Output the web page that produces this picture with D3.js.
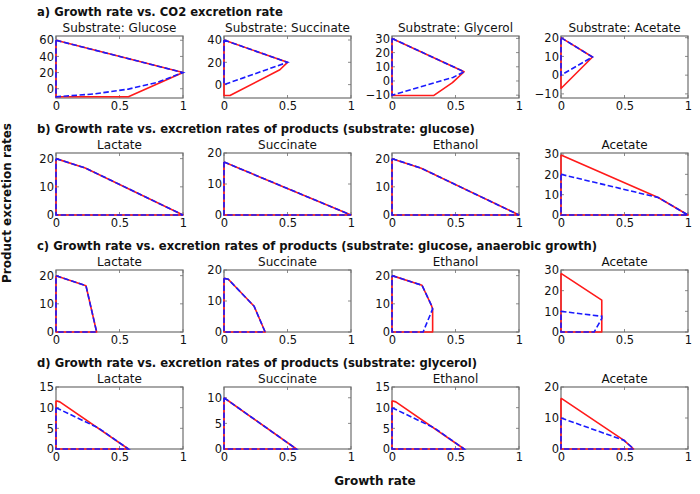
<!DOCTYPE html>
<html>
<head>
<meta charset="utf-8">
<script src="https://cdn.jsdelivr.net/npm/d3@7"></script>
<style>
  html, body { margin: 0; padding: 0; background: #fff; }
  svg { display: block; font-family: "DejaVu Sans", sans-serif; }
</style>
</head>
<body>
<div id="chart"></div>
<script>
// ---------- DATA ----------
// Section titles
const sectionTitles = [
  "a) Growth rate vs. CO2 excretion rate",
  "b) Growth rate vs. excretion rates of products (substrate: glucose)",
  "c) Growth rate vs. excretion rates of products (substrate: glucose, anaerobic growth)",
  "d) Growth rate vs. excretion rates of products (substrate: glycerol)"
];
const rowATitles = ["Substrate: Glucose", "Substrate: Succinate", "Substrate: Glycerol", "Substrate: Acetate"];
const productTitles = ["Lactate", "Succinate", "Ethanol", "Acetate"];

const xTicks = [0, 0.5, 1];

// y-axis ranges and ticks per row (4 panels each)
const yDomainsA = [[-11.5, 65.3], [-12, 43.6], [-12, 31.7], [-12.2, 20.9]];
const yTicksA = [[0, 20, 40, 60], [0, 20, 40], [-10, 0, 10, 20, 30], [-10, 0, 10, 20]];
const yDomainsB = [[0, 22], [0, 20], [0, 22], [0, 30.5]];
const yTicksB = [[0, 10, 20], [0, 10, 20], [0, 10, 20], [0, 10, 20, 30]];
const yDomainsC = [[0, 22], [0, 20], [0, 22], [0, 30]];
const yTicksC = [[0, 10, 20], [0, 10, 20], [0, 10, 20], [0, 10, 20, 30]];
const yDomainsD = [[0, 15], [0, 12.1], [0, 15], [0, 20]];
const yTicksD = [[0, 5, 10, 15], [0, 5, 10], [0, 5, 10, 15], [0, 10, 20]];

// Row a: growth rate vs CO2 excretion (red = solid envelope, blue = dashed envelope)
const aGlucoseRed  = [[0,60],[1,20],[0.57,-10],[0,-10],[0,60]];
const aGlucoseBlue = [[0,60],[1,20],[0.8,8],[0.57,-0.5],[0.3,-6.5],[0,-10],[0,60]];
const aSuccinateRed  = [[0,40],[0.5,20],[0.44,13.3],[0.047,-9.8],[0,-9.8],[0,40]];
const aSuccinateBlue = [[0,40],[0.5,20],[0,0],[0,40]];
const aGlycerolRed  = [[0,30],[0.568,6.5],[0.476,-1.2],[0.33,-10.2],[0,-10.2],[0,30]];
const aGlycerolBlue = [[0,30],[0.568,6.5],[0.48,2.5],[0,-10],[0,30]];
const aAcetateRed  = [[0,20],[0.248,9.7],[0,-7.1],[0,20]];
const aAcetateBlue = [[0,20],[0.248,9.7],[0,0],[0,20]];

// Row b: aerobic glucose
const bLactateRed  = [[0,20],[0.23,16.7],[1,0],[0,0],[0,20]];
const bLactateBlue = [[0,20],[0.23,16.7],[1,0],[0,0],[0,20]];
const bSuccinateRed  = [[0,17.1],[1,0],[0,0],[0,17.1]];
const bSuccinateBlue = [[0,17.1],[1,0],[0,0],[0,17.1]];
const bEthanolRed  = [[0,20],[0.23,16.6],[1,0],[0,0],[0,20]];
const bEthanolBlue = [[0,20],[0.23,16.6],[1,0],[0,0],[0,20]];
const bAcetateRed  = [[0,29.5],[0.765,8.6],[1,0],[0,0],[0,29.5]];
const bAcetateBlue = [[0,20],[0.765,8.6],[1,0],[0,0],[0,20]];

// Row c: anaerobic glucose
const cLactateRed  = [[0,20],[0.236,16.4],[0.32,0],[0,0],[0,20]];
const cLactateBlue = [[0,20],[0.236,16.4],[0.32,0],[0,0],[0,20]];
const cSuccinateRed  = [[0,17.3],[0.034,17],[0.237,8.3],[0.324,0],[0,0],[0,17.3]];
const cSuccinateBlue = [[0,17.3],[0.034,17],[0.237,8.3],[0.324,0],[0,0],[0,17.3]];
const cEthanolRed  = [[0,20],[0.236,16.6],[0.31,9.5],[0.32,8.2],[0.32,0],[0,0],[0,20]];
const cEthanolBlue = [[0,20],[0.236,16.6],[0.31,9.5],[0.32,8.2],[0.245,0],[0,0],[0,20]];
const cAcetateRed  = [[0,28.4],[0.321,15.4],[0.321,0],[0,0],[0,28.4]];
const cAcetateBlue = [[0,10],[0.321,7.6],[0.321,6.5],[0.261,0],[0,0],[0,10]];

// Row d: glycerol
const dLactateRed  = [[0,11.7],[0.03,11.4],[0.57,0],[0,0],[0,11.7]];
const dLactateBlue = [[0,10],[0.333,5.1],[0.57,0],[0,0],[0,10]];
const dSuccinateRed  = [[0,10],[0.57,0],[0,0],[0,10]];
const dSuccinateBlue = [[0,10],[0.57,0],[0,0],[0,10]];
const dEthanolRed  = [[0,11.7],[0.03,11.4],[0.568,0],[0,0],[0,11.7]];
const dEthanolBlue = [[0,10],[0.333,5.1],[0.568,0],[0,0],[0,10]];
const dAcetateRed  = [[0,16.4],[0.496,2.8],[0.572,0],[0,0],[0,16.4]];
const dAcetateBlue = [[0,10],[0.496,2.8],[0.572,0],[0,0],[0,10]];

// ---------- LAYOUT ----------
const W = 700, H = 494;
const panelLefts = [56, 224, 392, 561];
const panelTops = [36, 153, 270, 387];
const pw = 127, ph = 62;

const rows = [
  { title: sectionTitles[0], sub: rowATitles, dom: yDomainsA, ticks: yTicksA,
    red: [aGlucoseRed, aSuccinateRed, aGlycerolRed, aAcetateRed],
    blue: [aGlucoseBlue, aSuccinateBlue, aGlycerolBlue, aAcetateBlue] },
  { title: sectionTitles[1], sub: productTitles, dom: yDomainsB, ticks: yTicksB,
    red: [bLactateRed, bSuccinateRed, bEthanolRed, bAcetateRed],
    blue: [bLactateBlue, bSuccinateBlue, bEthanolBlue, bAcetateBlue] },
  { title: sectionTitles[2], sub: productTitles, dom: yDomainsC, ticks: yTicksC,
    red: [cLactateRed, cSuccinateRed, cEthanolRed, cAcetateRed],
    blue: [cLactateBlue, cSuccinateBlue, cEthanolBlue, cAcetateBlue] },
  { title: sectionTitles[3], sub: productTitles, dom: yDomainsD, ticks: yTicksD,
    red: [dLactateRed, dSuccinateRed, dEthanolRed, dAcetateRed],
    blue: [dLactateBlue, dSuccinateBlue, dEthanolBlue, dAcetateBlue] }
];

const svg = d3.select("#chart").append("svg")
  .attr("width", W).attr("height", H);

const frameColor = "#6e6e6e";

rows.forEach((row, ri) => {
  const top = panelTops[ri];
  svg.append("text")
    .attr("x", 37).attr("y", top - 20)
    .attr("font-size", 11.6).attr("font-weight", "bold")
    .attr("fill", "#111")
    .text(row.title);

  for (let pi = 0; pi < 4; pi++) {
    const left = panelLefts[pi];
    const x = d3.scaleLinear().domain([0, 1]).range([0, pw]);
    const y = d3.scaleLinear().domain(row.dom[pi]).range([ph, 0]);
    const g = svg.append("g").attr("transform", `translate(${left},${top})`);

    // subplot title
    g.append("text")
      .attr("x", pw / 2).attr("y", -4)
      .attr("text-anchor", "middle")
      .attr("font-size", 12).attr("fill", "#111")
      .text(row.sub[pi]);

    // axes
    const xAxis = d3.axisBottom(x).tickValues(xTicks).tickSize(0).tickPadding(4)
      .tickFormat(d => d === 0 ? "0" : (d === 1 ? "1" : "0.5"));
    const gx = g.append("g").attr("transform", `translate(0,${ph})`).call(xAxis);
    const yAxis = d3.axisLeft(y).tickValues(row.ticks[pi]).tickSize(0).tickPadding(2)
      .tickFormat(d3.format("d"));
    const gy = g.append("g").call(yAxis);
    [gx, gy].forEach(a => {
      a.select(".domain").remove();
      a.selectAll("text").attr("font-size", 11.5).attr("fill", "#111")
        .attr("font-family", "DejaVu Sans, sans-serif");
    });

    // inward ticks on all sides
    const tl = 3;
    xTicks.forEach(t => {
      g.append("line").attr("x1", x(t)).attr("x2", x(t)).attr("y1", ph).attr("y2", ph - tl)
        .attr("stroke", frameColor).attr("stroke-width", 0.8);
      g.append("line").attr("x1", x(t)).attr("x2", x(t)).attr("y1", 0).attr("y2", tl)
        .attr("stroke", frameColor).attr("stroke-width", 0.8);
    });
    row.ticks[pi].forEach(t => {
      g.append("line").attr("x1", 0).attr("x2", tl).attr("y1", y(t)).attr("y2", y(t))
        .attr("stroke", frameColor).attr("stroke-width", 0.8);
      g.append("line").attr("x1", pw).attr("x2", pw - tl).attr("y1", y(t)).attr("y2", y(t))
        .attr("stroke", frameColor).attr("stroke-width", 0.8);
    });

    // frame
    g.append("rect").attr("x", 0).attr("y", 0).attr("width", pw).attr("height", ph)
      .attr("fill", "none").attr("stroke", frameColor).attr("stroke-width", 1.2);

    const line = d3.line().x(d => x(d[0])).y(d => y(d[1]));
    g.append("path").attr("d", line(row.red[pi]))
      .attr("fill", "none").attr("stroke", "#ff1a1a").attr("stroke-width", 1.6)
      .attr("stroke-linejoin", "round");
    g.append("path").attr("d", line(row.blue[pi]))
      .attr("fill", "none").attr("stroke", "#1a1aff").attr("stroke-width", 1.6)
      .attr("stroke-dasharray", "5.5,2.5");
  }
});

// global axis labels
svg.append("text")
  .attr("transform", "translate(11,203) rotate(-90)")
  .attr("text-anchor", "middle")
  .attr("font-size", 12).attr("font-weight", "bold").attr("fill", "#111")
  .text("Product excretion rates");

svg.append("text")
  .attr("x", 375).attr("y", 485)
  .attr("text-anchor", "middle")
  .attr("font-size", 12).attr("font-weight", "bold").attr("fill", "#111")
  .text("Growth rate");
</script>
</body>
</html>
